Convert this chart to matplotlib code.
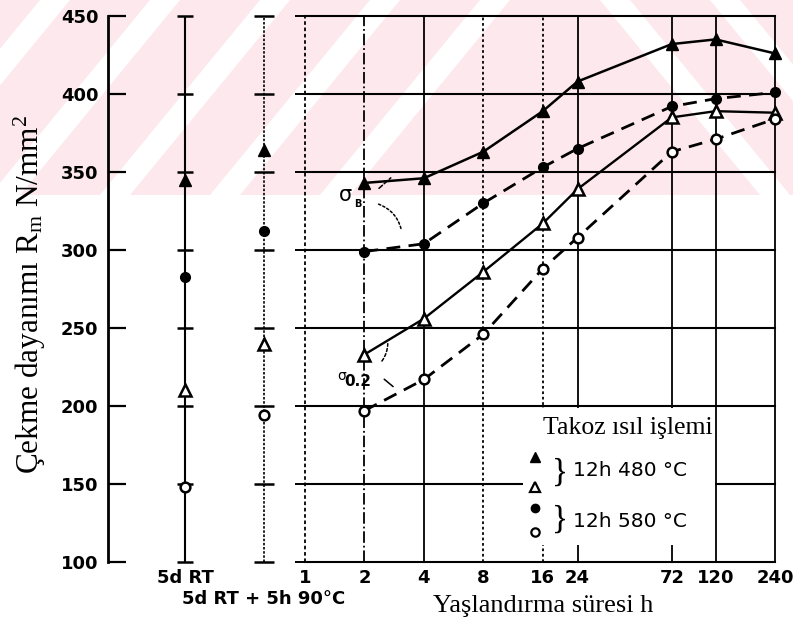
import matplotlib
matplotlib.use("Agg")
import matplotlib.pyplot as plt
from matplotlib.patches import Polygon, Rectangle
from matplotlib.ticker import NullLocator
from matplotlib.transforms import blended_transform_factory
import numpy as np

plt.rcParams["mathtext.fontset"] = "custom"
plt.rcParams["mathtext.rm"] = "Liberation Serif"
plt.rcParams["mathtext.it"] = "Liberation Serif:italic"

# ---- data -------------------------------------------------------------
hours = [2, 4, 8, 16, 24, 72, 120, 240]
rm_480 = [343, 346, 363, 389, 408, 432, 435, 426]   # tensile strength, 12h 480 C
rm_580 = [299, 304, 330, 353, 365, 392, 397, 401]   # tensile strength, 12h 580 C
rp_480 = [233, 256, 286, 317, 339, 385, 389, 388]   # yield strength, 12h 480 C
rp_580 = [197, 217, 246, 288, 308, 363, 371, 384]   # yield strength, 12h 580 C

pre_labels = ["5d RT", "5d RT + 5h 90°C"]
pre_rm_480 = [345, 364]
pre_rm_580 = [283, 312]
pre_rp_480 = [210, 240]
pre_rp_580 = [148, 194]

hour_ticks = [1, 2, 4, 8, 16, 24, 72, 120, 240]
hour_labels = ["1", "2", "4", "8", "16", "24", "72", "120", "240"]
grid_styles = [(0, (2, 1.5)), "-.", "-", (0, (1.5, 1.5)), (0, (1.5, 1.5)),
               "-", "-", "-", "-"]
y_ticks = [100, 150, 200, 250, 300, 350, 400, 450]

# ---- figure -----------------------------------------------------------
W, H = 793, 629
fig = plt.figure(figsize=(W / 100, H / 100), dpi=100)


def fx(px):
    return px / W


def fy(py):
    return 1 - py / H


# faint pink striped stamp across the upper band
pink = "#fde9ed"
fig.patches.append(Rectangle((0, fy(195)), 1, 195 / H, transform=fig.transFigure,
                             fc=pink, ec="none", zorder=-10))
for b in [-120, -10, 100, 210, 320]:
    pts = [(b, 195), (b + 30, 195), (b + 30 + 160, 0), (b + 160, 0)]
    fig.patches.append(Polygon([(fx(x), fy(y)) for x, y in pts], closed=True,
                               transform=fig.transFigure, fc="white", ec="none",
                               zorder=-9))
for t in [600, 710, 820]:
    pts = [(t, 0), (t + 30, 0), (t + 30 + 160, 195), (t + 160, 195)]
    fig.patches.append(Polygon([(fx(x), fy(y)) for x, y in pts], closed=True,
                               transform=fig.transFigure, fc="white", ec="none",
                               zorder=-9))

bold = dict(family="DejaVu Sans", weight="bold", size=13)

# ---- left panel: reference states -------------------------------------
ax_l = fig.add_axes([fx(108), fy(562), 192 / W, 546 / H])
ax_l.set_facecolor("none")
ax_l.set_xlim(-0.975, 1.456)
ax_l.set_ylim(100, 450)
for s in ["top", "right", "bottom"]:
    ax_l.spines[s].set_visible(False)
ax_l.spines["left"].set_linewidth(2.0)
ax_l.set_yticks(y_ticks)
ax_l.set_yticklabels([str(v) for v in y_ticks], fontdict=bold)
ax_l.tick_params(axis="y", direction="in", length=13, width=1.6, pad=7)
ax_l.set_xticks([0])
ax_l.set_xticklabels(pre_labels[:1], fontdict=bold)
ax_l.tick_params(axis="x", length=0, pad=5)
lower = blended_transform_factory(ax_l.transData, ax_l.transAxes)
ax_l.text(1, -0.068, pre_labels[1], transform=lower, ha="center", va="center",
          **bold)

ax_l.axvline(0, color="black", lw=1.5, zorder=1)
ax_l.axvline(1, color="black", lw=1.2, ls=(0, (1.5, 1.0)), zorder=1)
ax_l.plot(np.zeros(len(y_ticks)), y_ticks, ls="none", marker="_", ms=11,
          mew=1.8, color="black", clip_on=False)
ax_l.plot(np.ones(len(y_ticks)), y_ticks, ls="none", marker="_", ms=15,
          mew=1.8, color="black", clip_on=False)

px = [0, 1]
ax_l.plot(px, pre_rm_480, ls="none", marker="^", ms=8, color="black", zorder=4)
ax_l.plot(px, pre_rm_580, ls="none", marker="o", ms=7, color="black", zorder=4)
ax_l.plot(px, pre_rp_480, ls="none", marker="^", ms=8, mfc="white", mec="black",
          mew=1.8, zorder=4)
ax_l.plot(px, pre_rp_580, ls="none", marker="o", ms=7, mfc="white", mec="black",
          mew=1.8, zorder=4)

# ---- main panel: ageing time ------------------------------------------
ax = fig.add_axes([fx(305), fy(562), 470 / W, 546 / H])
ax.set_facecolor("none")
ax.set_xscale("log", base=2)
ax.set_xlim(1, 240)
ax.set_ylim(100, 450)
for s in ax.spines.values():
    s.set_visible(False)
ax.set_xticks(hour_ticks)
ax.set_xticklabels(hour_labels, fontdict=bold)
ax.xaxis.set_minor_locator(NullLocator())
ax.tick_params(axis="x", length=0, pad=5)
ax.set_yticks(y_ticks)
ax.tick_params(axis="y", direction="out", length=7, width=1.4, labelleft=False)

for v in y_ticks:
    ax.axhline(v, color="black", lw=1.5, zorder=1, clip_on=False)
for h, st in zip(hour_ticks, grid_styles):
    ax.axvline(h, color="black", lw=1.3, ls=st, zorder=1, clip_on=False)

ax.plot(hours, rm_480, color="black", lw=1.8, marker="^", ms=8, zorder=4,
        clip_on=False)
ax.plot(hours, rm_580, color="black", lw=2.0, ls=(0, (5, 3)), marker="o", ms=7,
        zorder=4, clip_on=False)
ax.plot(hours, rp_480, color="black", lw=1.7, marker="^", ms=8, mfc="white",
        mec="black", mew=1.8, zorder=4, clip_on=False)
ax.plot(hours, rp_580, color="black", lw=2.0, ls=(0, (5, 3)), marker="o", ms=7,
        mfc="white", mec="black", mew=1.8, zorder=4, clip_on=False)

# curve labels
ax.text(0.085, 0.672, "σ", transform=ax.transAxes, ha="center", va="center",
        family="DejaVu Sans", size=15, zorder=5)
ax.text(0.113, 0.656, "B", transform=ax.transAxes, ha="center", va="center",
        family="DejaVu Sans", weight="bold", size=7, zorder=5)
ax.annotate("", xy=(0.187, 0.707), xytext=(0.153, 0.681),
            xycoords="axes fraction",
            arrowprops=dict(arrowstyle="-", ls=(0, (3, 1.5)), lw=1.1,
                            color="black"))
ax.annotate("", xy=(0.206, 0.604), xytext=(0.151, 0.657),
            xycoords="axes fraction",
            arrowprops=dict(arrowstyle="-", ls=(0, (1.5, 1.5)), lw=1.1,
                            color="black", connectionstyle="arc3,rad=-0.3"))

ax.text(0.077, 0.341, "σ", transform=ax.transAxes, ha="center", va="center",
        family="DejaVu Sans", size=10, zorder=5)
ax.text(0.112, 0.330, "0.2", transform=ax.transAxes, ha="center", va="center",
        family="DejaVu Sans", weight="bold", size=11, zorder=5)
ax.annotate("", xy=(0.176, 0.405), xytext=(0.160, 0.364),
            xycoords="axes fraction",
            arrowprops=dict(arrowstyle="-", ls=(0, (2, 1.5)), lw=1.1,
                            color="black", connectionstyle="arc3,rad=0.2"))
ax.annotate("", xy=(0.192, 0.318), xytext=(0.164, 0.338),
            xycoords="axes fraction",
            arrowprops=dict(arrowstyle="-", lw=1.1, color="black"))

# key box
ax.add_patch(Rectangle((0.4638, 0.0311), 0.4085, 0.2509, transform=ax.transAxes,
                       fc="white", ec="none", zorder=2))
ax.text(0.687, 0.245, "Takoz ısıl işlemi", transform=ax.transAxes, ha="center",
        va="center", family="Liberation Serif", size=18.5, zorder=5)
ax.plot([0.489], [0.192], transform=ax.transAxes, marker="^", ms=7,
        color="black", clip_on=False, zorder=5)
ax.plot([0.489], [0.137], transform=ax.transAxes, marker="^", ms=7,
        mfc="white", mec="black", mew=1.6, clip_on=False, zorder=5)
ax.plot([0.489], [0.099], transform=ax.transAxes, marker="o", ms=6,
        color="black", clip_on=False, zorder=5)
ax.plot([0.489], [0.055], transform=ax.transAxes, marker="o", ms=6,
        mfc="white", mec="black", mew=1.6, clip_on=False, zorder=5)
for yc in [0.164, 0.077]:
    ax.text(0.543, yc, "}", transform=ax.transAxes, ha="center", va="center",
            family="Liberation Serif", size=24, zorder=5)
ax.text(0.570, 0.168, "12h 480 °C", transform=ax.transAxes, ha="left",
        va="center", family="DejaVu Sans", size=14.5, zorder=5)
ax.text(0.570, 0.075, "12h 580 °C", transform=ax.transAxes, ha="left",
        va="center", family="DejaVu Sans", size=14.5, zorder=5)

# axis titles
fig.text(fx(30), fy(295), r"Çekme dayanımı R$_{\rm m}$ N/mm$^2$", rotation=90,
         ha="center", va="center", family="Liberation Serif", size=22.5)
fig.text(fx(543), fy(606), "Yaşlandırma süresi h", ha="center", va="center",
         family="Liberation Serif", size=19)

fig.savefig("out.png", dpi=100)
